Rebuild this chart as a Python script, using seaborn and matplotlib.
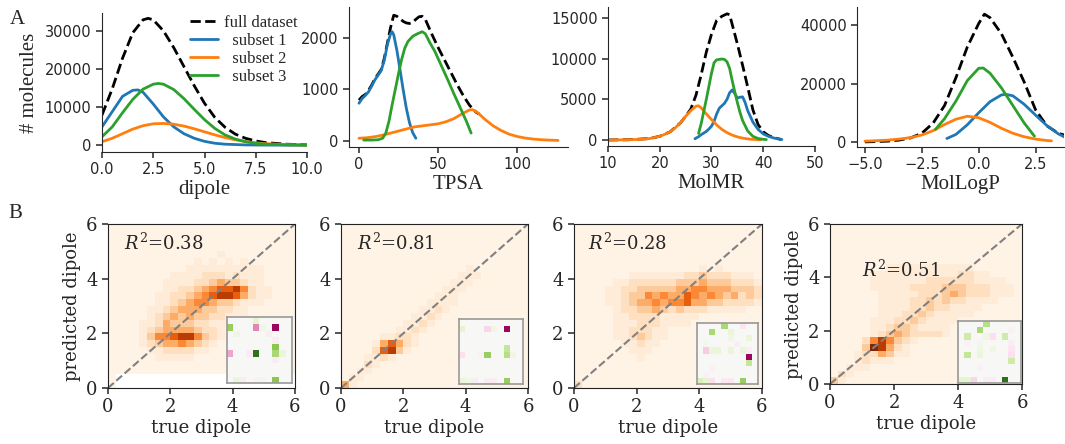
import numpy as np
import pandas as pd
import matplotlib
matplotlib.use("Agg")
import matplotlib.pyplot as plt
import seaborn as sns

# === 1. Panel A: density curves ===

dip_full_x = [0, 0.5, 1, 1.5, 2, 2.25, 2.5, 3, 3.5, 4, 4.5, 5, 5.5, 6, 6.5, 7, 7.5, 8, 9, 10]
dip_full_y = [7900, 14800, 22800, 29500, 32900, 33300, 32900, 30000, 25600, 20600, 15600, 11000, 7300,
              4700, 2900, 1800, 1100, 650, 250, 80]
dip_s1_x = [0, 0.5, 1, 1.5, 1.75, 2, 2.5, 3, 3.5, 4, 4.5, 5, 5.5, 6, 7, 8, 10]
dip_s1_y = [4800, 8800, 12800, 14400, 14500, 13900, 10800, 7400, 4800, 3000, 1800, 1000, 500, 250, 60, 15, 0]
dip_s2_x = [0, 0.5, 1, 1.5, 2, 2.5, 3, 3.5, 4, 4.5, 5, 5.5, 6, 6.5, 7, 7.5, 8, 9, 10]
dip_s2_y = [900, 1800, 3000, 4200, 5100, 5600, 5700, 5500, 5000, 4300, 3500, 2700, 2000, 1400, 950, 600,
            380, 130, 40]
dip_s3_x = [0, 0.5, 1, 1.5, 2, 2.5, 2.75, 3, 3.5, 4, 4.5, 5, 5.5, 6, 6.5, 7, 7.5, 8, 9, 10]
dip_s3_y = [2200, 4800, 8500, 12000, 14700, 16000, 16200, 16000, 14600, 12200, 9400, 6700, 4400, 2700,
            1600, 900, 480, 250, 60, 10]

tpsa_full_x = [0, 2, 4, 6, 8, 10, 12, 14, 16, 18, 20, 22, 24, 26, 28, 30, 32, 34, 36, 38, 40, 42, 44, 46,
               48, 50, 54, 58, 62, 66, 70, 74, 76]
tpsa_full_y = [790, 860, 900, 980, 1080, 1200, 1290, 1380, 1600, 1900, 2200, 2440, 2420, 2370, 2320, 2290,
               2280, 2300, 2360, 2410, 2420, 2360, 2220, 2080, 1950, 1820, 1580, 1340, 1100, 880, 690, 560, 520]
tpsa_s1_x = [0, 2, 4, 6, 8, 10, 12, 14, 16, 18, 20, 21, 22, 24, 26, 28, 30, 32, 34, 36]
tpsa_s1_y = [730, 820, 880, 950, 1060, 1180, 1270, 1360, 1560, 1870, 2080, 2120, 2060, 1760, 1380, 990,
             630, 350, 160, 50]
tpsa_s2_x = [0, 5, 10, 15, 20, 25, 30, 35, 40, 45, 50, 55, 60, 65, 70, 72, 75, 80, 85, 90, 95, 100, 105,
             110, 115, 120, 126]
tpsa_s2_y = [50, 60, 80, 110, 150, 190, 230, 270, 290, 310, 330, 370, 430, 520, 600, 605, 550, 410, 290,
             200, 130, 85, 55, 35, 22, 14, 8]
tpsa_s3_x = [3, 8, 12, 15, 17, 19, 21, 23, 25, 27, 29, 31, 34, 37, 40, 42, 45, 48, 52, 56, 60, 64, 68, 71]
tpsa_s3_y = [15, 15, 20, 50, 150, 380, 700, 1000, 1300, 1580, 1800, 1930, 2030, 2080, 2120, 2080, 1900,
             1740, 1470, 1200, 920, 650, 380, 150]

mr_full_x = [10, 14, 18, 20, 22, 24, 25, 26, 27, 28, 29, 30, 31, 32, 33, 33.5, 34, 35, 36, 37, 38, 39, 40,
             41, 42, 43, 43.5]
mr_full_y = [0, 30, 170, 450, 1000, 2100, 2900, 3800, 5500, 8000, 10800, 13000, 14700, 15200, 15500,
             15400, 14200, 11800, 9200, 6500, 3700, 1900, 1000, 550, 300, 130, 60]
mr_s1_x = [26.8, 27.5, 28, 28.5, 29, 29.5, 30, 30.5, 31, 31.5, 32, 32.5, 33, 33.5, 34, 34.5, 35, 35.5, 36,
           36.5, 37, 37.5, 38, 39, 40, 41, 42, 43, 43.6]
mr_s1_y = [150, 400, 650, 850, 1050, 1350, 1700, 2300, 3200, 3900, 4200, 4500, 5000, 5800, 6150, 5700,
           5150, 5250, 5300, 4600, 3600, 2900, 2200, 1300, 750, 450, 250, 120, 60]
mr_s2_x = [10, 12, 14, 16, 18, 20, 21, 22, 23, 24, 25, 26, 27, 27.5, 28, 29, 30, 31, 32, 33, 34, 35, 36,
           37, 38, 39.5]
mr_s2_y = [0, 10, 30, 70, 170, 450, 700, 1000, 1500, 2100, 2900, 3600, 4150, 4200, 3950, 3200, 2500,
           1850, 1300, 900, 600, 380, 230, 130, 70, 30]
mr_s3_x = [27.5, 28, 28.5, 29, 29.5, 30, 30.5, 31, 32, 32.5, 33, 33.5, 34, 34.5, 35, 35.5, 36, 37, 38, 39,
           40, 40.6]
mr_s3_y = [800, 2000, 3500, 5000, 6600, 8200, 9500, 9850, 9950, 9900, 9600, 8800, 7300, 5900, 4600, 3400,
           2400, 1100, 450, 180, 80, 50]

logp_full_x = [-5, -4.5, -4, -3.5, -3, -2.5, -2, -1.5, -1, -0.5, 0, 0.25, 0.5, 1, 1.5, 2, 2.5, 3, 3.5, 3.8]
logp_full_y = [50, 150, 300, 650, 1400, 3000, 6500, 12500, 22000, 32500, 40500, 43700, 42500, 37000,
               29000, 20500, 11000, 5500, 3000, 2300]
logp_s1_x = [-1.4, -1, -0.5, 0, 0.5, 1, 1.2, 1.5, 2, 2.5, 3, 3.5, 3.9]
logp_s1_y = [1200, 2600, 5900, 10000, 13800, 16100, 16300, 15800, 12900, 9200, 5600, 2800, 1200]
logp_s2_x = [-5, -4.5, -4, -3.5, -3, -2.5, -2, -1.5, -1, -0.5, 0, 0.5, 1, 1.5, 2, 2.5, 3, 3.2]
logp_s2_y = [300, 450, 650, 1000, 1500, 2400, 3900, 6000, 7800, 8800, 8300, 6700, 4700, 3000, 1800, 1000,
             500, 400]
logp_s3_x = [-1.9, -1.5, -1, -0.5, 0, 0.2, 0.5, 1, 1.5, 2, 2.45]
logp_s3_y = [4300, 8000, 14000, 21000, 25200, 25300, 23500, 18500, 12500, 6500, 2000]

series_labels = ["full dataset", "subset 1", "subset 2", "subset 3"]
series_colors = ["black", "#1f77b4", "#ff7f0e", "#2ca02c"]

# === 2. Panel B: 2D histograms, 24x24 bins of 0.25 over [0, 6], top row = highest y ===
# density levels 0 (empty) .. 9 (darkest)

hist_b1 = [
    "111111111111111111111111", "111111111111111111111111", "111111111111111111111111",
    "111111111111111111111111", "111111111111112111111111", "111111111112121212111111",
    "111111111122222222221111", "111111112222333232221111", "111111122223345443221111",
    "111111122334567786322111", "111111223345678875322111", "111111223456654432221111",
    "111112234555443322111111", "111112345454433222111111", "111122354443322211111111",
    "111123455554332111111111", "111124667886432111111111", "111123455654321111111111",
    "111112233332211111111111", "111111222221111111111111", "111111111111111111111111",
    "111111111111111111111111", "100000000000000000000000", "100000000000000000000000",
]
hist_b2 = [
    "111111111111111111111111", "111111111111111111111111", "111111111111111111111111",
    "111111111111111111111111", "111111111111111111111111", "111111111111111111111111",
    "111111111111111121111111", "111111111111111222111111", "111111111111112221111111",
    "111111111111122211111111", "111111111111222111111111", "111111111112222111111111",
    "111111111122321111111111", "111111111223211111111111", "111111112232111111111111",
    "111111122321111111111111", "111112233211111111111111", "111125753211111111111111",
    "111137842111111111111111", "111223211111111111111111", "111321111111111111111111",
    "112211111111111111111111", "122111111111111111111111", "521111111111111111111111",
]
hist_b3 = [
    "111111111111111111111111", "111111111111111111111111", "111111111111111111111111",
    "111111111111111111111111", "111111111111111111111111", "111111111111111111111111",
    "111111111111111121211111", "111111122222223343332221", "111112233333344454443332",
    "111122334444455665554443", "111122344656557656545343", "111122345565667554433332",
    "111112334454343332222211", "111112233332222211111111", "111112223332222111111111",
    "111112233322111111111111", "111112234322111111111111", "111111223221111111111111",
    "111111122211111111111111", "111111112111111111111111", "111111111111111111111111",
    "111111111111111111111111", "111111111111111111111111", "311111111111111111111111",
]
hist_b4 = [
    "111111111111111111111111", "111111111111111111111111", "111111111111111111111111",
    "111111111111111111111111", "111111111111111111111111", "111111111111111111111111",
    "111111122222222222111111", "111112222222222233221111", "111112222222333333222211",
    "111112222233334443332221", "111111222223334543332221", "111111222233434332222111",
    "111111222233433222211111", "111111222334322222111111", "111112223343222211111111",
    "111112234432222111111111", "111112345433332111111111", "111136864321111111111111",
    "111149853211111111111111", "111233542211111111111111", "111232221111111111111111",
    "112221111111111111111111", "132111111111111111111111", "421111111111111111111111",
]
r2_labels = ["0.38", "0.81", "0.28", "0.51"]

# small weight matrices shown as insets (PiYG, -1..1)
inset_b1 = [
    [0, 0, 0, 0, 0.2, 0, 0, 0, 0, 0],
    [0.5, 0, 0, 0, -0.55, 0.1, 0, -0.95, 0, 0],
    [0, 0.1, 0, 0, 0, 0, -0.1, 0, 0, 0],
    [0, 0, 0, 0, 0, 0, 0, -0.1, 0, 0],
    [0, 0, 0, 0, 0, 0, 0, 0.55, 0, 0],
    [-0.45, 0, 0, -0.1, 0.95, 0, 0, 0.45, 0.15, 0],
    [0, 0, 0, 0, 0, 0, 0, -0.1, 0, 0],
    [0, 0, 0, 0, 0, 0, 0, 0, 0, 0],
    [0, 0, 0, 0, 0, 0, 0, 0, 0, 0],
    [0, 0.15, -0.1, 0, -0.05, 0.05, 0, 0.55, 0, 0],
]
inset_b2 = [
    [0, 0, 0, 0, 0, 0, 0, 0, 0, 0],
    [0.2, 0, 0, 0, -0.25, 0.1, 0, -0.95, 0, 0],
    [0, 0, 0, 0, 0, 0, 0, 0, 0, 0],
    [0, 0, 0, 0, 0, 0, 0, 0, 0, 0],
    [0, 0, 0, 0, 0, 0, 0, 0.35, 0, 0],
    [-0.2, 0, 0, -0.05, 0.5, 0, 0, 0.4, 0.1, 0],
    [0, 0, 0, 0, 0, 0, 0, 0, 0, 0],
    [0, 0, 0, 0, 0, 0, 0, 0, 0, 0],
    [0, 0, 0, 0, 0, 0, 0, 0, 0, 0],
    [0.15, 0.1, -0.1, 0, -0.1, -0.1, 0, 0.5, 0, 0],
]
inset_b3 = [
    [0, 0, 0, 0, 0.45, 0, 0, -0.15, 0, 0],
    [0, 0, 0.45, 0, 0, 0.15, 0, 0, 0, 0],
    [0, 0, 0, 0, 0, 0.1, 0, 0, 0.15, 0],
    [0, 0.05, 0, 0, 0, 0, -0.08, 0, 0, 0],
    [0, -0.3, 0.15, 0.15, 0, 0.15, 0, 0.15, -0.08, 0],
    [0, 0, 0, 0, 0, 0, 0, 0, -0.95, 0],
    [0, 0, 0, 0, 0, 0, 0, 0, 0.35, 0],
    [0, 0, -0.05, 0, 0, 0, 0, 0, 0, 0],
    [0, -0.05, 0, 0, 0, 0, 0, 0, 0, 0],
    [0.25, 0.2, -0.2, 0, -0.12, -0.12, 0, 0.5, 0, 0],
]
inset_b4 = [
    [0, 0, 0, 0, 0.4, 0, 0, 0, 0, 0],
    [0, 0, 0, 0.45, 0, 0, 0, 0, -0.05, 0],
    [0, 0.3, 0, 0, 0.1, -0.2, 0, 0.3, 0, 0],
    [0, -0.05, 0, 0.05, 0, 0, 0, 0, -0.08, 0],
    [0, 0, 0, 0.1, 0, 0.1, 0, 0, -0.15, 0],
    [0, 0.35, 0, 0.15, 0, 0, 0, 0, -0.2, 0],
    [0, 0, 0, 0, 0, 0, 0, 0, 0.3, 0],
    [0, 0, 0, -0.05, 0, 0, 0, 0, 0, 0],
    [0, 0, 0, 0, 0, 0, 0, 0, 0, 0],
    [0.2, 0.2, -0.25, 0, -0.1, -0.1, 0, 0.95, 0, 0],
]

# === 3. Figure setup ===

sns.set_style("ticks")
plt.rcParams["font.family"] = ["DejaVu Sans"]
plt.rcParams["mathtext.fontset"] = "dejavuserif"

W, H = 1065, 444
fig = plt.figure(figsize=(W / 100, H / 100), dpi=100)


def box(l, t, r, b):
    # pixel box -> figure fraction
    return [l / W, 1 - b / H, (r - l) / W, (b - t) / H]


SERIF_A = "Liberation Serif"
SERIF_B = "DejaVu Serif"
GAMMA = 1.6  # colour ramp for the density levels

# === 4. Panel A ===

top_panels = [
    dict(name="dipole", rect=box(102, 13, 307, 152), xlim=(0, 10), ylim=(-1800, 34700),
         xticks=[0, 2.5, 5, 7.5, 10], yticks=[0, 10000, 20000, 30000],
         curves=[(dip_full_x, dip_full_y), (dip_s1_x, dip_s1_y), (dip_s2_x, dip_s2_y), (dip_s3_x, dip_s3_y)]),
    dict(name="TPSA", rect=box(349, 7, 568, 147), xlim=(-6.3, 132.3), ylim=(-120, 2600),
         xticks=[0, 50, 100], yticks=[0, 1000, 2000],
         curves=[(tpsa_full_x, tpsa_full_y), (tpsa_s1_x, tpsa_s1_y), (tpsa_s2_x, tpsa_s2_y), (tpsa_s3_x, tpsa_s3_y)]),
    dict(name="MolMR", rect=box(608, 7, 815, 146), xlim=(10, 50), ylim=(-740, 16340),
         xticks=[10, 20, 30, 40, 50], yticks=[0, 5000, 10000, 15000],
         curves=[(mr_full_x, mr_full_y), (mr_s1_x, mr_s1_y), (mr_s2_x, mr_s2_y), (mr_s3_x, mr_s3_y)]),
    dict(name="MolLogP", rect=box(857, 7, 1064, 147), xlim=(-5.35, 3.75), ylim=(-1700, 46150),
         xticks=[-5, -2.5, 0, 2.5], yticks=[0, 20000, 40000],
         curves=[(logp_full_x, logp_full_y), (logp_s1_x, logp_s1_y), (logp_s2_x, logp_s2_y), (logp_s3_x, logp_s3_y)]),
]

for i, p in enumerate(top_panels):
    ax = fig.add_axes(p["rect"])
    for j, (xs, ys) in enumerate(p["curves"]):
        sns.lineplot(x=xs, y=ys, ax=ax, color=series_colors[j], lw=2,
                     ls="--" if j == 0 else "-", label=series_labels[j] if i == 0 else None,
                     legend=False, sort=False)
    ax.set_xlim(*p["xlim"])
    ax.set_ylim(*p["ylim"])
    ax.set_xticks(p["xticks"])
    ax.set_yticks(p["yticks"])
    ax.tick_params(labelsize=10.5, length=4, width=1.1)
    ax.set_xlabel(p["name"], fontfamily=SERIF_A, fontsize=15, labelpad=2)
    sns.despine(ax=ax)
    if i == 0:
        ax.set_ylabel("# molecules", fontfamily=SERIF_A, fontsize=15)
        handles, labels = ax.get_legend_handles_labels()
        labels = [l if k == 0 else "  " + l for k, l in enumerate(labels)]
        ax.legend(handles, labels, loc="upper left", bbox_to_anchor=(190 / W, 1 - 15 / H),
                  bbox_transform=fig.transFigure, frameon=False, borderpad=0, borderaxespad=0,
                  handlelength=1.7, handletextpad=0.35, labelspacing=0.12,
                  prop={"family": SERIF_A, "size": 12})
    else:
        ax.set_ylabel("")

# === 5. Panel B ===

bottom_rects = [box(108, 224, 295, 388), box(341, 224, 528, 388), box(574, 224, 762, 388), box(830, 224, 1022, 384)]
inset_rects = [[0.636, 0.03, 0.348, 0.40], [0.63, 0.024, 0.342, 0.396],
               [0.654, 0.024, 0.325, 0.372], [0.667, 0.006, 0.328, 0.388]]
r2_pos = [(0.5, 5.3), (0.5, 5.3), (0.45, 5.3), (1.0, 4.25)]
hists = [hist_b1, hist_b2, hist_b3, hist_b4]
insets = [inset_b1, inset_b2, inset_b3, inset_b4]

for i in range(4):
    ax = fig.add_axes(bottom_rects[i])
    grid = hists[i]
    n = len(grid)
    recs = []
    for r, row in enumerate(grid):
        for c, ch in enumerate(row):
            recs.append(((c + 0.5) * 6 / n, 6 - (r + 0.5) * 6 / n, int(ch) ** GAMMA))
    df = pd.DataFrame(recs, columns=["true", "pred", "level"])
    sns.histplot(data=df, x="true", y="pred", weights="level", bins=n, binrange=((0, 6), (0, 6)),
                 cmap="Oranges", vmin=0.3, vmax=9 ** GAMMA, ax=ax)
    ax.axline((0, 0), slope=1, color="#808080", ls="--", lw=1.5)
    ax.set_xlim(0, 6)
    ax.set_ylim(0, 6)
    ax.set_xticks([0, 2, 4, 6])
    ax.set_yticks([0, 2, 4, 6])
    ax.tick_params(labelsize=13, labelfontfamily=SERIF_B, length=4, width=1.1)
    for s in ax.spines.values():
        s.set_visible(True)
        s.set_color("#222222")
    ax.set_xlabel("true dipole", fontfamily=SERIF_B, fontsize=13, labelpad=2)
    if i in (0, 3):
        ax.set_ylabel("predicted dipole", fontfamily=SERIF_B, fontsize=13)
    else:
        ax.set_ylabel("")
    ax.text(*r2_pos[i], r"$R^2$=" + r2_labels[i], fontsize=13, fontfamily=SERIF_B, va="center")

    iax = ax.inset_axes(inset_rects[i])
    sns.heatmap(np.array(insets[i]), cmap="PiYG", vmin=-1, vmax=1, cbar=False,
                xticklabels=False, yticklabels=False, ax=iax)
    for s in iax.spines.values():
        s.set_visible(True)
        s.set_color("#999999")
        s.set_linewidth(1.2)

fig.text(10 / W, 1 - 20 / H, "A", fontsize=15, fontfamily=SERIF_A, va="center")
fig.text(8 / W, 1 - 214 / H, "B", fontsize=15, fontfamily=SERIF_A, va="center")

fig.savefig("out.png", dpi=100)
